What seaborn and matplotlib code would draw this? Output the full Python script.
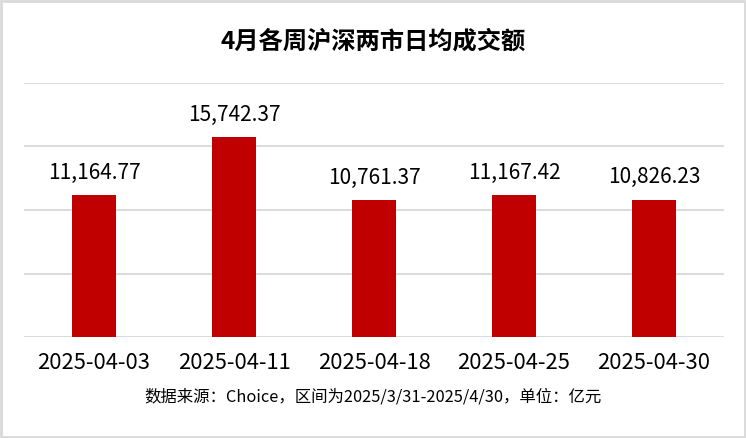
import matplotlib
matplotlib.use('Agg')
import matplotlib.pyplot as plt
import seaborn as sns
import pandas as pd
from matplotlib.patches import Rectangle

# data
weeks = ['2025-04-03', '2025-04-11', '2025-04-18', '2025-04-25', '2025-04-30']
turnover = [11164.77, 15742.37, 10761.37, 11167.42, 10826.23]
title = '4月各周沪深两市日均成交额'
source = '数据来源：Choice，区间为2025/3/31-2025/4/30，单位：亿元'

df = pd.DataFrame({'week': weeks, 'turnover': turnover})

sns.set_theme(style='white')
plt.rcParams['font.family'] = ['Noto Sans CJK SC', 'DejaVu Sans']
plt.rcParams['text.color'] = 'black'
plt.rcParams['xtick.color'] = 'black'

fig = plt.figure(figsize=(7.46, 4.38), dpi=100)
ax = fig.add_axes([24/746, 1 - 337/438, 700/746, 254/438])

sns.barplot(data=df, x='week', y='turnover', color='#C00000', saturation=1,
            width=0.32, linewidth=0, ax=ax)

ax.set_ylim(0, 20000)
ax.set_xlim(-0.5, 4.5)
ax.set_yticks([0, 5000, 10000, 15000, 20000])
ax.yaxis.grid(True, color='#D9D9D9', linewidth=1.3)
ax.set_axisbelow(True)
ax.tick_params(axis='y', left=False, labelleft=False)
ax.tick_params(axis='x', length=0, labelsize=15.8, pad=11)
for s in ax.spines.values():
    s.set_visible(False)
ax.set_xlabel('')
ax.set_ylabel('')

for p, v in zip(ax.patches, turnover):
    ax.annotate(format(v, ',.2f'), (p.get_x() + p.get_width() / 2, p.get_height()),
                ha='center', va='bottom', xytext=(0, 8), textcoords='offset points',
                fontsize=15, color='black')

fig.text(0.5, 1 - 42/438, title, ha='center', va='center', fontsize=17.5, fontweight='bold')
fig.text(0.5, 1 - 397/438, source, ha='center', va='center', fontsize=11.8)

fig.patches.append(Rectangle((0.002, 0.003), 0.996, 0.994, transform=fig.transFigure,
                             fill=False, edgecolor='#D9D9D9', linewidth=2))

fig.savefig('out.png', dpi=100)
